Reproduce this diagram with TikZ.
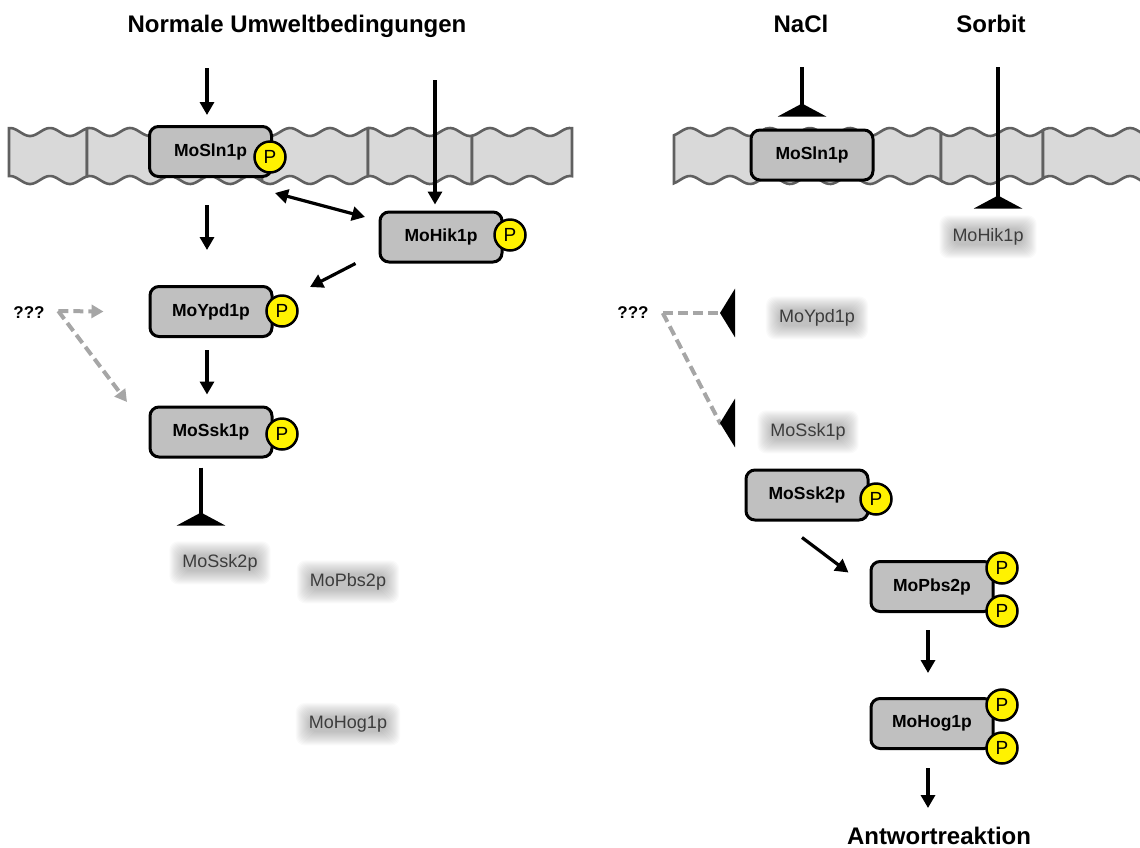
\documentclass[tikz,border=0pt]{standalone}
\usepackage{fontspec}
\setmainfont{Liberation Sans}
\usetikzlibrary{arrows.meta,backgrounds}
\definecolor{protgray}{HTML}{C0C0C0}
\definecolor{memfill}{HTML}{D9D9D9}
\definecolor{memline}{HTML}{606060}
\definecolor{dashgray}{HTML}{A6A6A6}
\definecolor{ghosttext}{HTML}{3C3C3C}
\begin{document}
\begin{tikzpicture}[x=1pt, y=-1pt,
  prot/.style={draw, line width=3pt, fill=protgray, rounded corners=9pt, minimum width=122pt, minimum height=50pt, inner sep=0pt, font=\bfseries\fontsize{17.5}{20}\selectfont},
  phos/.style={circle, draw, line width=2.5pt, fill=yellow, minimum size=31pt, inner sep=0pt, font=\fontsize{19}{21}\selectfont},
  ghost/.style={text=ghosttext, inner sep=0pt, anchor=base, font=\fontsize{18}{20}\selectfont},
  head/.style={inner sep=0pt, anchor=base, font=\bfseries\fontsize{24}{28}\selectfont},
  quest/.style={inner sep=0pt, font=\bfseries\fontsize{17}{19}\selectfont},
  act/.style={line width=3.2pt, -{Triangle[length=13pt,width=14pt]}},
  inh/.style={line width=3.2pt, -{Triangle[reversed,length=13pt,width=48pt]}},
  maybe/.style={draw=dashgray, line width=4pt, dash pattern=on 10pt off 5pt, -{Triangle[length=12pt,width=13pt]}},
  maybeinh/.style={draw=dashgray, line width=4pt, dash pattern=on 10pt off 5pt, -{Triangle[reversed,length=15pt,width=48pt,color=black,fill=black]}},
  membrane/.style={draw=memline, line width=2.6pt, fill=memfill}]
\useasboundingbox (0,0) rectangle (1140,847);
% membranes
\foreach \a/\b in {9/87,87/175,175/262,262/368,368/472,472/572,674/765,765/860,860/941,941/1043,1043/1160}
  \draw[membrane] plot[domain=\a:\b,samples=40] (\x,{132-4*sin(9*\x)}) -- plot[domain=\b:\a,samples=40] (\x,{180-4*sin(9*\x)}) -- cycle;
% headings
\node[head] (titleL) at (297,32) {Normale Umweltbedingungen};
\node[head] (nacl) at (801,32) {NaCl};
\node[head] (sorbit) at (991,32) {Sorbit};
\node[head] (antw) at (939,844) {Antwortreaktion};
\node[quest] (qL) at (29,313) {???};
\node[quest] (qR) at (633,313) {???};
% proteins
\node[prot] (sln1L) at (210.5,151.5) {MoSln1p};
\node[prot] (hik1) at (441,237) {MoHik1p};
\node[prot] (ypd1) at (211,311.5) {MoYpd1p};
\node[prot] (ssk1) at (211,432) {MoSsk1p};
\node[prot] (sln1R) at (812,155) {MoSln1p};
\node[prot] (ssk2R) at (807,495) {MoSsk2p};
\node[prot] (pbs2) at (932,586.5) {MoPbs2p};
\node[prot] (hog1) at (932,723.5) {MoHog1p};
\node[phos] (sln1LP) at ([shift={(-3,5.5)}]sln1L.east) {P};
\node[phos] (hik1P) at ([shift={(6.5,-2)}]hik1.east) {P};
\node[phos] (ypd1P) at ([shift={(8.5,-0.5)}]ypd1.east) {P};
\node[phos] (ssk1P) at ([shift={(8.5,2)}]ssk1.east) {P};
\node[phos] (ssk2RP) at ([shift={(6.5,4)}]ssk2R.east) {P};
\node[phos] (pbs2Pa) at ([shift={(7.5,8)}]pbs2.north east) {P};
\node[phos] (pbs2Pb) at ([shift={(7.5,-2)}]pbs2.south east) {P};
\node[phos] (hog1Pa) at ([shift={(7.5,8)}]hog1.north east) {P};
\node[phos] (hog1Pb) at ([shift={(7.5,-2)}]hog1.south east) {P};
% inactive ones
\node[ghost] (ssk2L) at (220,567.5) {MoSsk2p};
\node[ghost] (pbs2L) at (348,586.5) {MoPbs2p};
\node[ghost] (hog1L) at (348,728.5) {MoHog1p};
\node[ghost] (hik1R) at (988,241.5) {MoHik1p};
\node[ghost] (ypd1R) at (817,322.5) {MoYpd1p};
\node[ghost] (ssk1R) at (808,436.5) {MoSsk1p};
\begin{scope}[on background layer]
\foreach \n in {ssk2L,pbs2L,hog1L,hik1R,ypd1R,ssk1R}
  \foreach \g in {0,...,13}
    \fill[black, fill opacity=.02, rounded corners=9pt] ([shift={(-1*\g,1*\g)}]\n.south west) rectangle ([shift={(1*\g,-1*\g)}]\n.north east);
\end{scope}
% left: normal conditions
\coordinate (inL) at (207,68);
\coordinate (inH) at (435,80);
\draw[act] (inL) -- (inL |- sln1L.north) [shorten >=10pt];
\draw[act, shorten >=6pt] (inH) -- (inH |- hik1.north);
\draw[act, {Triangle[length=13pt,width=14pt]}-{Triangle[length=13pt,width=14pt]}] ([shift={(2,15)}]sln1L.south east) -- ([shift={(-13.5,-20)}]hik1.west);
\draw[act] ([shift={(-23,0)}]hik1.south west) -- ([shift={(36.5,2)}]ypd1.north east);
\draw[act] ([shift={(-3.5,27)}]sln1L.south) -- ([shift={(-4,-35)}]ypd1.north);
\draw[act] ([shift={(-4,12)}]ypd1.south) -- ([shift={(-4,-11)}]ssk1.north);
\draw[inh] ([shift={(-10,9)}]ssk1.south) -- ([shift={(-19,-42)}]ssk2L.base);
\draw[maybe] ([shift={(13.5,-2)}]qL.east) -- ([xshift=-45]ypd1.west);
\draw[maybe] ([shift={(13.5,-2)}]qL.east) -- ([shift={(-21.5,-30)}]ssk1.west);
% right: stress
\coordinate (naclIn) at (802,67);
\coordinate (sorbIn) at (998,67);
\draw[inh, shorten >=12pt] (naclIn) -- (naclIn |- sln1R.north);
\draw[inh] (sorbIn) -- ([shift={(10,-33)}]hik1R.base);
\draw[maybeinh] ([xshift=14]qR.east) -- ([shift={(-82,-9.5)}]ypd1R.base);
\draw[maybeinh] ([xshift=14]qR.east) -- ([shift={(-88,-13.5)}]ssk1R.base) -- ([shift={(-73,-13.5)}]ssk1R.base);
\draw[act] ([shift={(-5,16)}]ssk2R.south) -- ([shift={(-21,-14)}]pbs2.west);
\draw[act] ([shift={(-4,17)}]pbs2.south) -- ([shift={(-4,-24)}]hog1.north);
\draw[act] ([shift={(-4,18)}]hog1.south) -- ([shift={(-11,-36)}]antw.base);
\end{tikzpicture}
\end{document}
